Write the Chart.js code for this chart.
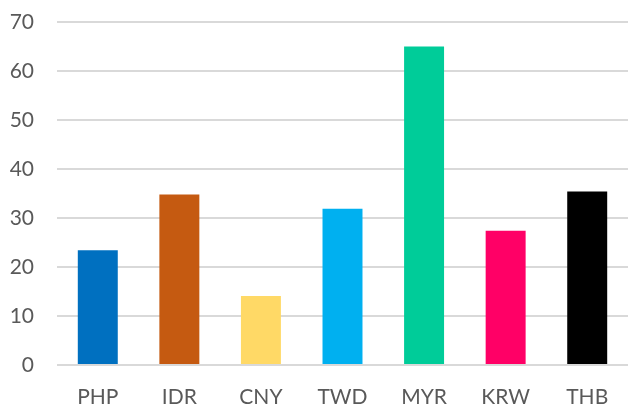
<!DOCTYPE html>
<html>
<head>
<meta charset="utf-8">
<script src="https://cdn.jsdelivr.net/npm/chart.js@4"></script>
<style>
  html, body { margin: 0; padding: 0; background: #fff; }
  #wrap { width: 628px; height: 405px; }
</style>
</head>
<body>
<div id="wrap"><canvas id="fxChart"></canvas></div>
<script>
const currencies = ["PHP", "IDR", "CNY", "TWD", "MYR", "KRW", "THB"];
const values = [23.4, 34.8, 14.1, 31.9, 65.0, 27.4, 35.4];
const barColors = ["#0070c0", "#c55a11", "#ffd966", "#00b0f0", "#00cc99", "#ff0066", "#000000"];
const yTicks = [0, 10, 20, 30, 40, 50, 60, 70];

const ctx = document.getElementById("fxChart").getContext("2d");
const chart = new Chart(ctx, {
    type: "bar",
    data: {
        labels: currencies,
        datasets: [{
            data: values,
            backgroundColor: barColors,
            borderWidth: 0,
            barPercentage: 0.49,
            categoryPercentage: 1
        }]
    },
    options: {
        responsive: true,
        maintainAspectRatio: false,
        animation: false,
        layout: { padding: { top: 22, right: 0, left: 0, bottom: 0 } },
        plugins: { legend: { display: false }, tooltip: { enabled: false } },
        scales: {
            x: {
                grid: { display: false },
                border: { display: false },
                ticks: { color: "#595959", font: { family: "Lato", size: 21 }, padding: 12 },
                afterFit: (s) => { s.height = 40; }
            },
            y: {
                min: 0,
                max: 70,
                afterBuildTicks: (s) => { s.ticks = yTicks.map(v => ({ value: v })); },
                grid: { color: "#d9d9d9", lineWidth: 2, drawTicks: false },
                border: { display: false },
                ticks: { color: "#595959", font: { family: "Lato", size: 21 }, padding: 23 },
                afterFit: (s) => { s.width = 57; s.paddingTop = 0; s.paddingBottom = 0; }
            }
        }
    }
});
</script>
</body>
</html>
